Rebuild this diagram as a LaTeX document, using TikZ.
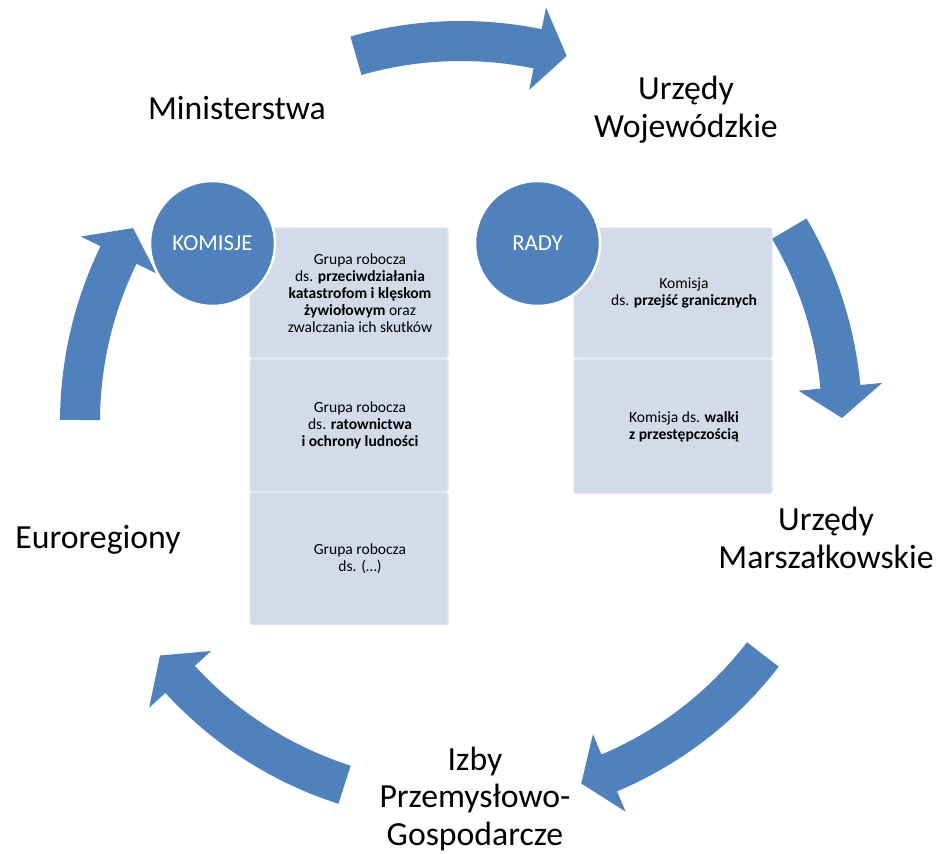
\documentclass[tikz,border=0pt]{standalone}
\usepackage{fontspec}
\setmainfont{Carlito}
\usetikzlibrary{positioning}
\definecolor{cycleblue}{RGB}{79,129,189}
\definecolor{panelfill}{RGB}{211,218,234}
\definecolor{panelline}{RGB}{223,228,240}
\begin{document}
\begin{tikzpicture}[x=0.02cm, y=-0.02cm,
    label/.style={align=center, font=\fontsize{19.2}{21.5}\selectfont},
    ring/.style={circle, fill=cycleblue, draw=white, line width=1.4pt, minimum size=2.5cm, inner sep=0pt, text=white, font=\fontsize{13}{15}\selectfont},
    panel/.style={fill=panelfill, draw=panelline, line width=0.8pt, rounded corners=1pt, minimum width=3.96cm, inner sep=0pt},
    note/.style={align=center, font=\fontsize{8.85}{9.64}\selectfont}]
  \useasboundingbox (0,0) rectangle (940,854);

  % arrows of the cycle
  \begin{scope}[shift={(461,422)}, y=0.02cm]
    \foreach \a/\b/\c in {106/78.4/73.9, 30.5/5.3/0.6, -37.6/-67.1/-71.6, -107.8/-137.5/-142.2, 179.7/154/149.4}
      \fill[cycleblue] (\a:401) arc[start angle=\a, end angle=\b, radius=401] -- (\b:423) -- (\c:381) -- (\b:339) -- (\b:361) arc[start angle=\b, end angle=\a, radius=361] -- cycle;
  \end{scope}

  % panels
  \node[panel, minimum height=2.6cm] (grp1) at (349,293) {};
  \node[panel, minimum height=2.64cm, below=0pt of grp1] (grp2) {};
  \node[panel, minimum height=2.64cm, below=0pt of grp2] (grp3) {};
  \node[panel, minimum height=2.6cm] (kom1) at (673,293) {};
  \node[panel, minimum height=2.68cm, below=0pt of kom1] (kom2) {};

  \node[note] at ([xshift=0.22cm]grp1.center) {Grupa robocza\\ds. \textbf{przeciwdziałania}\\\textbf{katastrofom i klęskom}\\\textbf{żywiołowym} oraz\\zwalczania ich skutków};
  \node[note] at ([xshift=0.22cm]grp2.center) {Grupa robocza\\ds. \textbf{ratownictwa}\\\textbf{i ochrony ludności}};
  \node[note] at ([xshift=0.22cm]grp3.center) {Grupa robocza\\ds. (…)};
  \node[note] at ([xshift=0.22cm]kom1.center) {Komisja\\ds. \textbf{przejść granicznych}};
  \node[note] at ([xshift=0.22cm]kom2.center) {Komisja ds. \textbf{walki}\\\textbf{z przestępczością}};

  % circles
  \node[ring] (komisje) at (212.5,243.5) {KOMISJE};
  \node[ring] (rady) at (537.5,243.5) {RADY};

  % labels
  \node[label] (ministerstwa) at (237,108) {Ministerstwa};
  \node[label] (wojewodzkie) at (686,110) {Urzędy\\Wojewódzkie};
  \node[label] (marszalkowskie) at (826,538) {Urzędy\\Marszałkowskie};
  \node[label] (izby) at (475,799) {Izby\\Przemysłowo-\\Gospodarcze};
  \node[label] (euroregiony) at (98,540) {Euroregiony};
\end{tikzpicture}
\end{document}
